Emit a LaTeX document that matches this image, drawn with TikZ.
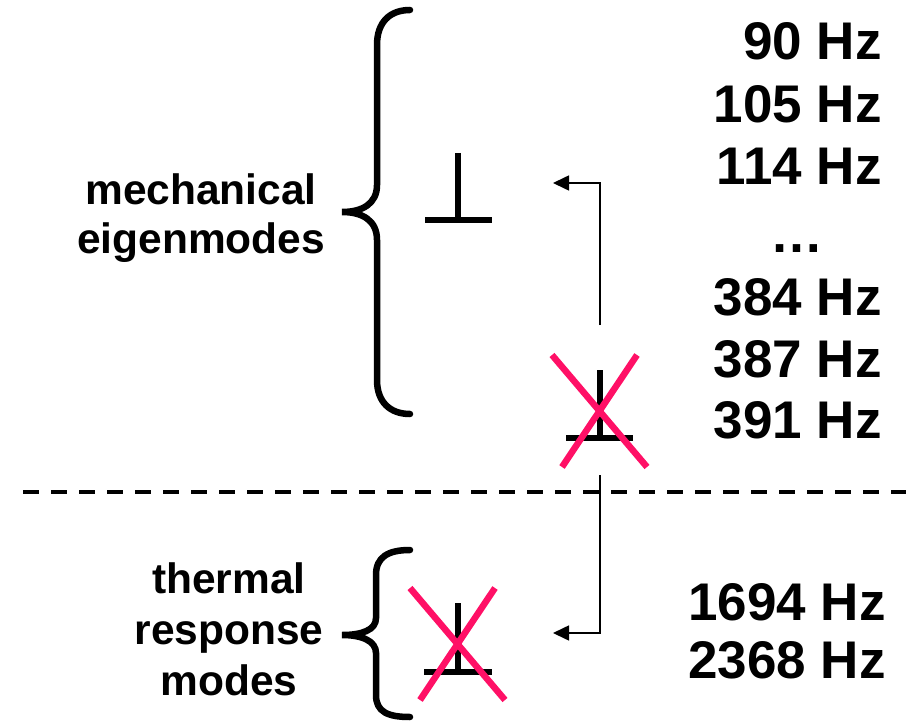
\documentclass[tikz,border=0pt]{standalone}
\usepackage{fontspec}
\setmainfont{Liberation Sans}
\definecolor{crossred}{RGB}{255,16,102}
\usepackage{tikz}
\usetikzlibrary{arrows.meta,positioning,calc}

\begin{document}
\begin{tikzpicture}[x=1pt,y=-1pt,
      freq/.style={anchor=base east,inner sep=0pt,
                   font=\bfseries\fontsize{53}{53}\selectfont},
      lbl/.style={align=center,inner sep=0pt,anchor=base},
      brace/.style={line width=6.5pt,line cap=round},
      bar/.style={line width=6pt},
      cross/.style={line width=6.5pt,color=crossred},
      a/.style={-{Triangle[length=16pt,width=15pt]},line width=1.6pt}]
      \useasboundingbox (0,0) rectangle (910,722);
      % frequencies
      \foreach \f/\y in {90/60,105/123,114/185,384/315,387/377,391/438} {
        \node[freq] (f\f) at (882,\y) {\f~Hz};
      }
      \node[freq,anchor=base] (fdots) at (797,252) {\dots};
      \foreach \f/\y in {1694/620,2368/678} {
        \node[freq] (f\f) at (886,\y) {\f~Hz};
      }
      % labels
      \node[lbl,font=\bfseries\fontsize{42.5}{49}\selectfont] (mech) at (201,253)
        {mechanical\\eigenmodes};
      \node[lbl,font=\bfseries\fontsize{42.5}{51}\selectfont] (therm) at (229,695)
        {thermal\\response\\modes};
      % braces
      \draw[brace] (410,10) .. controls (390,10) and (377,22) .. (377,45)
        -- (377,185) .. controls (377,204) and (362,212) .. (342,212)
        .. controls (362,212) and (377,220) .. (377,240)
        -- (377,380) .. controls (377,402) and (390,414) .. (410,414);
      \draw[brace] (410,550) .. controls (388,550) and (376,557) .. (376,575)
        -- (376,618) .. controls (376,630) and (362,635) .. (342,635)
        .. controls (362,635) and (376,641) .. (376,653)
        -- (376,695) .. controls (376,712) and (388,717) .. (410,717);
      % modes
      \draw[bar] (458,153) -- (458,220) (425,220) -- (492,220);
      \draw[bar] (600,370) -- (600,438) (566,438) -- (633,438);
      \draw[bar] (458,603) -- (458,672) (424,672) -- (492,672);
      \draw[cross] (552,355) -- (647,467) (637,355) -- (562,467);
      \draw[cross] (410,588) -- (505,700) (495,588) -- (420,700);
      % separator
      \draw[line width=3.5pt,dash pattern=on 16pt off 12pt] (23,492) -- (906,492);
      % arrows
      \coordinate (s1) at (600,325);
      \coordinate (e1) at (553,183);
      \coordinate (s2) at (600,475);
      \coordinate (e2) at (553,633);
      \draw[a] (s1) |- (e1);
      \draw[a] (s2) |- (e2);
    \end{tikzpicture}
\end{document}
